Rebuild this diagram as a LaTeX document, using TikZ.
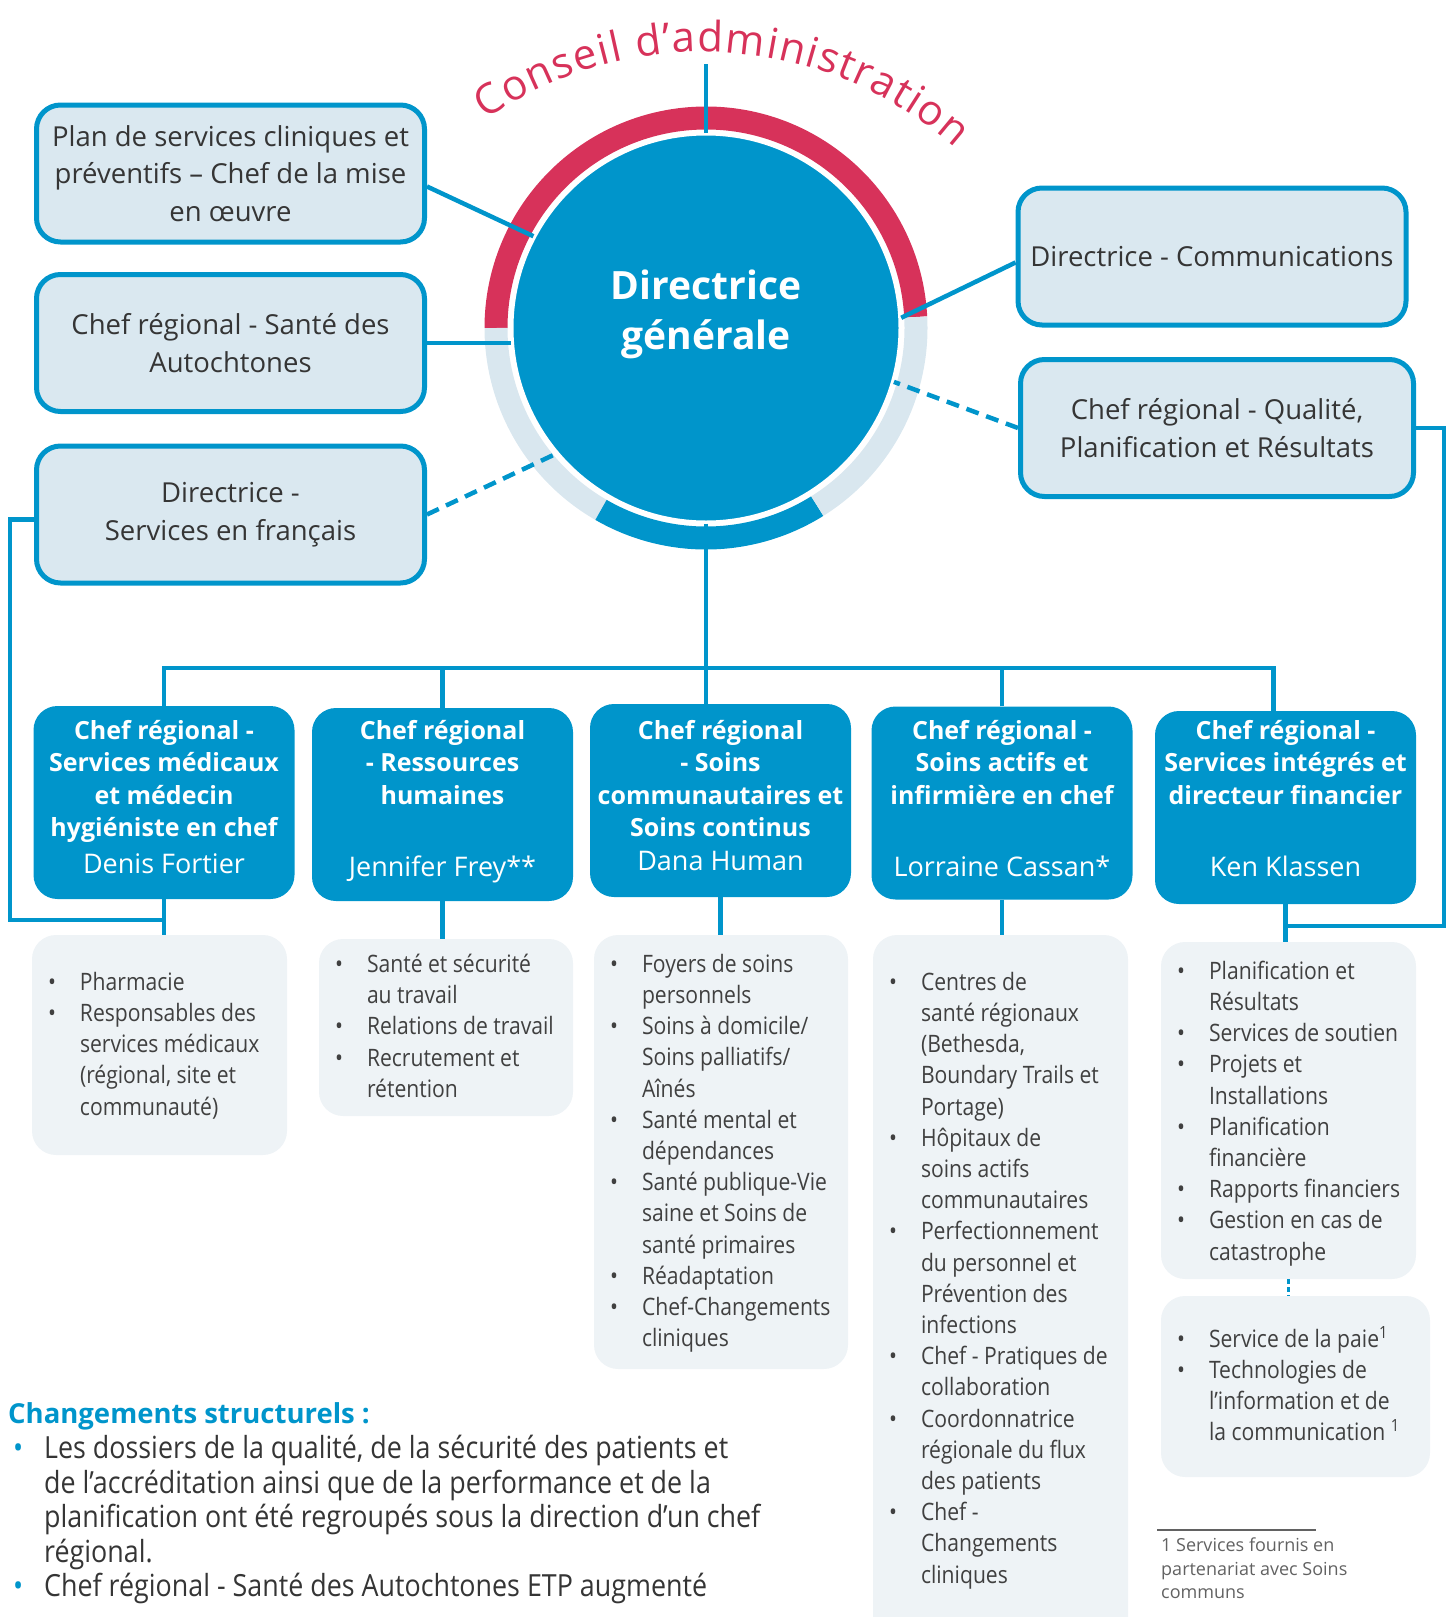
\documentclass[tikz,border=0pt]{standalone}
\usepackage{fontspec}
\setmainfont{Open Sans}
\newfontfamily\fine{Open Sans}[FakeStretch=0.88]
\usetikzlibrary{calc,decorations.text}

\definecolor{bleu}{HTML}{0095CB}
\definecolor{rouge}{HTML}{D7325A}
\definecolor{pale}{HTML}{DAE8F0}
\definecolor{anneau}{HTML}{D9E7EF}
\definecolor{fondliste}{HTML}{EEF3F6}
\definecolor{gristexte}{HTML}{353535}
\definecolor{grisliste}{HTML}{404040}
\definecolor{grisnote}{HTML}{626262}

\newcommand\nom[1]{{\mdseries\fontsize{27}{32.5}\selectfont #1}}
\newcommand\puce{\makebox[32pt][l]{\textbullet}}
\newcommand\suite{\hspace*{32pt}}
\newcommand\pucebleue{\makebox[31pt][l]{\textcolor{bleu}{\textbullet}}}
\newcommand\suiteb{\hspace*{31pt}}

\tikzset{
  cadre/.style={draw=bleu, line width=5pt, fill=pale, rounded corners=24pt,
    minimum width=388pt, minimum height=137pt, align=center, text=gristexte,
    font=\fontsize{27.5}{37.5}\selectfont},
  poste/.style={fill=bleu, rounded corners=24pt, minimum width=261pt,
    minimum height=193pt, inner sep=0pt},
  postetexte/.style={anchor=north, align=center, text=white, inner sep=0pt,
    font=\bfseries\fontsize{25}{32.5}\selectfont},
  liste/.style={fill=fondliste, rounded corners=24pt, inner sep=0pt},
  listetexte/.style={align=left, anchor=north west, inner sep=0pt, text=grisliste,
    font=\fine\fontsize{24}{31.2}\selectfont},
  rond/.style={circle, fill=bleu, draw=white, line width=3pt, minimum size=388pt, inner sep=0pt},
  trait/.style={draw=bleu, line width=4.5pt},
  tirets/.style={trait, dash pattern=on 13pt off 8pt}
}

\begin{document}
\begin{tikzpicture}[x=1pt,y=1pt]
\useasboundingbox (0,0) rectangle (1448,-1617);

\node[rond] (dg) at (706,-328) {};
\draw[line width=23pt, rouge] ([shift={(3:210)}]dg.center) arc[start angle=3, end angle=180, radius=210];
\draw[line width=23pt, anneau] ([shift={(180:210)}]dg.center) arc[start angle=180, end angle=240, radius=210];
\draw[line width=23pt, bleu] ([shift={(240:210)}]dg.center) arc[start angle=240, end angle=302, radius=210];
\draw[line width=23pt, anneau] ([shift={(302:210)}]dg.center) arc[start angle=302, end angle=363, radius=210];
\node[font=\bfseries\fontsize{39}{50}\selectfont, text=white, align=center] (dgt) at ([yshift=14pt]dg.center) {Directrice\\générale};

\coordinate (ct) at (702,-434);
\path[decorate, decoration={text along path, text color=rouge,
    text={|\fontsize{42}{48}\selectfont|Conseil d’administration}, text align={fit to path}}]
  ([shift={(124.5:382)}]ct) arc[start angle=124.5, end angle=48.5, radius=382];
\coordinate (ca) at (706,-64);
\draw[trait] (ca) -- (dg.north);

\node[cadre] (b1) at (230.5,-173.5) {Plan de services cliniques et\\préventifs – Chef de la mise\\en œuvre};
\node[cadre] (b2) at (230.5,-343) {Chef régional - Santé des\\Autochtones};
\node[cadre] (b3) at (230.5,-514.5) {Directrice -\\Services en français};
\node[cadre] (bc) at (1212,-256.5) {Directrice - Communications};
\node[cadre, minimum width=393pt] (bq) at (1217,-428) {Chef régional - Qualité,\\Planification et Résultats};

\draw[trait] ([yshift=-13pt]b1.east) -- (dg.152);
\draw[trait] (b2.east) -- (b2.east -| dg.west);
\draw[tirets] (b3.east) -- (dg.220.6);
\draw[trait] ([yshift=-6pt]bc.west) -- (dg.3.5);
\draw[tirets] (bq.west) -- (dg.-16);

\node[poste] (p1) at (164,-802.5) {};
\node[poste] (p2) at (442.5,-804.5) {};
\node[poste] (p3) at (720.5,-800.5) {};
\node[poste] (p4) at (1002,-803) {};
\node[poste] (p5) at (1285.5,-807.5) {};
\coordinate (rangee) at (0,-720);
\node[postetexte] (n1) at (p1.north |- rangee) {Chef régional -\\Services médicaux\\et médecin\\hygiéniste en chef\\[4pt]\nom{Denis Fortier}};
\node[postetexte] (n2) at (p2.north |- rangee) {Chef régional\\- Ressources\\humaines\\[40pt]\nom{Jennifer Frey**}};
\node[postetexte] (n3) at (p3.north |- rangee) {Chef régional\\- Soins\\communautaires et\\Soins continus\\[1pt]\nom{Dana Human}};
\node[postetexte] (n4) at (p4.north |- rangee) {Chef régional -\\Soins actifs et\\infirmière en chef\\[40pt]\nom{Lorraine Cassan*}};
\node[postetexte] (n5) at (p5.north |- rangee) {Chef régional -\\Services intégrés et\\directeur financier\\[40pt]\nom{Ken Klassen}};

\coordinate (bus) at (706,-668);
\draw[trait] (dg.south) -- (dg.south |- p3.north);
\draw[trait] (p1.north) |- (bus) -| ([xshift=-12pt]p5.north);
\draw[trait] (p2.north) -- (p2.north |- bus);
\draw[trait] (p4.north) -- (p4.north |- bus);

\node[liste, minimum width=255pt, minimum height=220pt] (l1) at (159.5,-1045) {};
\node[liste, minimum width=254pt, minimum height=177pt] (l2) at (446,-1027.5) {};
\node[liste, minimum width=254pt, minimum height=434pt] (l3) at (721,-1152) {};
\node[liste, minimum width=255pt, minimum height=725pt] (l4) at (1000.5,-1297.5) {};
\node[liste, minimum width=255pt, minimum height=337pt] (l5a) at (1288.5,-1110.5) {};
\node[liste, minimum width=269pt, minimum height=181pt] (l5b) at (1295.5,-1386.5) {};

\draw[trait] (p1.south) -- (p1.south |- l1.north);
\draw[trait] (p2.south) -- (p2.south |- l2.north);
\draw[trait] (p3.south) -- (p3.south |- l3.north);
\draw[trait] (p4.south) -- (p4.south |- l4.north);
\draw[trait] (p5.south) -- (p5.south |- l5a.north);
\draw[bleu, line width=2.5pt, dash pattern=on 5pt off 3pt] (l5a.south) -- (l5a.south |- l5b.north);

\coordinate (lc) at (10,-920);
\draw[trait] ([yshift=-5pt]b3.west) -| (lc) -- (lc -| p1.south);
\coordinate (rc) at (1444,-926);
\draw[trait] (bq.east) -| (rc) -- (rc -| p5.south);

\node[listetexte] (t1) at ([xshift=16pt,yshift=-37pt]l1.north west) {\puce Pharmacie\\\puce Responsables des\\\suite services médicaux\\\suite (régional, site et\\\suite communauté)};
\node[listetexte] (t2) at ([xshift=16pt,yshift=-15pt]l2.north west) {\puce Santé et sécurité\\\suite au travail\\\puce Relations de travail\\\puce Recrutement et\\\suite rétention};
\node[listetexte] (t3) at ([xshift=16pt,yshift=-19pt]l3.north west) {\puce Foyers de soins\\\suite personnels\\\puce Soins à domicile/\\\suite Soins palliatifs/\\\suite Aînés\\\puce Santé mental et\\\suite dépendances\\\puce Santé publique-Vie\\\suite saine et Soins de\\\suite santé primaires\\\puce Réadaptation\\\puce Chef-Changements\\\suite cliniques};
\node[listetexte] (t4) at ([xshift=16pt,yshift=-37pt]l4.north west) {\puce Centres de\\\suite santé régionaux\\\suite (Bethesda,\\\suite Boundary Trails et\\\suite Portage)\\\puce Hôpitaux de\\\suite soins actifs\\\suite communautaires\\\puce Perfectionnement\\\suite du personnel et\\\suite Prévention des\\\suite infections\\\puce Chef - Pratiques de\\\suite collaboration\\\puce Coordonnatrice\\\suite régionale du flux\\\suite des patients\\\puce Chef -\\\suite Changements\\\suite cliniques};
\node[listetexte] (t5a) at ([xshift=16pt,yshift=-19pt]l5a.north west) {\puce Planification et\\\suite Résultats\\\puce Services de soutien\\\puce Projets et\\\suite Installations\\\puce Planification\\\suite financière\\\puce Rapports financiers\\\puce Gestion en cas de\\\suite catastrophe};
\node[listetexte] (t5b) at ([xshift=16pt,yshift=-30pt]l5b.north west) {\puce Service de la paie\textsuperscript{1}\\\puce Technologies de\\\suite l’information et de\\\suite la communication \textsuperscript{1}};

\node[anchor=west, inner sep=0pt, text=bleu, font=\bfseries\fontsize{27.5}{32}\selectfont] (chg) at (8,-1416) {Changements structurels :};
\node[listetexte, text=gristexte, font=\fine\fontsize{30.5}{34.6}\selectfont] (chgl) at (13,-1435) {\pucebleue Les dossiers de la qualité, de la sécurité des patients et\\\suiteb de l’accréditation ainsi que de la performance et de la\\\suiteb planification ont été regroupés sous la direction d’un chef\\\suiteb régional.\\\pucebleue Chef régional - Santé des Autochtones ETP augmenté};

\node[anchor=north west, align=left, inner sep=0pt, text=grisnote, font=\fontsize{18}{23.5}\selectfont] (note) at (1161,-1538) {1 Services fournis en\\partenariat avec Soins\\communs};
\draw[grisnote, line width=1.2pt] ([shift={(-4pt,8pt)}]note.north west) -- ++(159,0);
\end{tikzpicture}
\end{document}
